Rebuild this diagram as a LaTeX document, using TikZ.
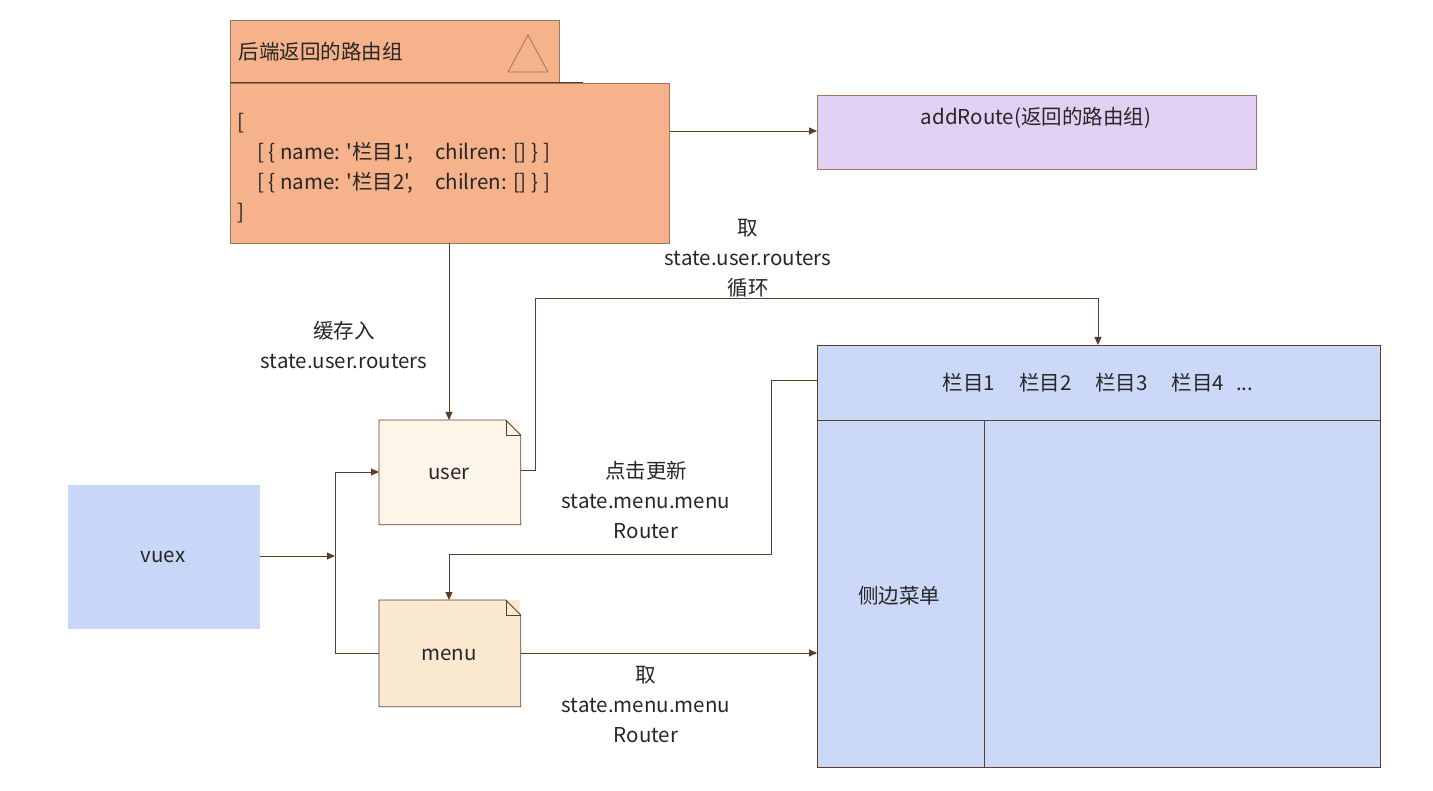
\documentclass[tikz,border=0pt]{standalone}
\usepackage{fontspec}
\setmainfont{Noto Sans CJK SC}
\newfontfamily\cjkf{Noto Sans CJK SC}
\usetikzlibrary{arrows.meta,positioning,calc}
\definecolor{salmon}{HTML}{F5B28B}
\definecolor{salmonline}{HTML}{9B7659}
\definecolor{lav}{HTML}{E1D0F3}
\definecolor{blu}{HTML}{CCD8F7}
\definecolor{vuexc}{HTML}{C8D6F8}
\definecolor{noteA}{HTML}{FDF5E8}
\definecolor{noteB}{HTML}{FAE9CF}
\definecolor{lin}{HTML}{5A3E28}
\tikzset{
  base/.style={font=\cjkf\fontsize{20.5}{30}\selectfont, text=black!85},
  box/.style={base, draw=#1, line width=0.8pt, inner sep=0pt, anchor=north west},
  conn/.style={draw=lin, line width=0.9pt},
  arr/.style={conn, -{Triangle[width=7pt,length=8pt]}},
  lbl/.style={base, align=center, inner sep=0pt},
}
\begin{document}
\begin{tikzpicture}[x=1pt,y=-1pt]
\useasboundingbox (0,0) rectangle (1433,791);
% title box
\node[box=salmonline, fill=salmon, minimum width=329pt, minimum height=63pt] (title) at (230,20) {};
\node[base, anchor=west] (titletxt) at (235,52) {后端返回的路由组};
\draw[salmonline, line width=0.8pt] (528,35) -- (548,72) -- (508,72) -- cycle;
% body box
\node[box=salmonline, fill=salmon, minimum width=439pt, minimum height=160pt] (body) at (230,83) {};
\draw[lin, line width=1pt] (230,83) -- (583,83);
\node[base, anchor=north west, align=left, inner sep=0pt] (bodytxt) at (237,113)
  {[\\\hspace*{20pt}[ \{ name: '栏目1',\hspace{22pt}chilren: [] \} ]\\\hspace*{20pt}[ \{ name: '栏目2',\hspace{22pt}chilren: [] \} ]\\]};
% addRoute
\node[box=salmonline, fill=lav, minimum width=439pt, minimum height=74pt] (add) at (817,95) {};
\node[base] (addtxt) at (1036,118) {addRoute(返回的路由组)};
% vuex
\node[box=vuexc, fill=vuexc, minimum width=191pt, minimum height=143pt] (vuex) at (68,485) {};
\node[base] (vuextxt) at (163,557) {vuex};
% notes
\node[box=none, fill=noteA, minimum width=141pt, minimum height=104pt] (user) at (379,420) {};
\draw[lin, line width=0.8pt] (user.north west) -- ($(user.north east)+(-15,0)$) -- ($(user.north east)+(0,15)$) -- (user.south east) -- (user.south west) -- cycle;
\draw[lin, line width=0.6pt] ($(user.north east)+(-15,0)$) -- ($(user.north east)+(-15,15)$) -- ($(user.north east)+(0,15)$);
\node[base] (usertxt) at (449,474) {user};
\node[box=none, fill=noteB, minimum width=141pt, minimum height=106pt] (menu) at (379,600) {};
\draw[lin, line width=0.8pt] (menu.north west) -- ($(menu.north east)+(-15,0)$) -- ($(menu.north east)+(0,15)$) -- (menu.south east) -- (menu.south west) -- cycle;
\draw[lin, line width=0.6pt] ($(menu.north east)+(-15,0)$) -- ($(menu.north east)+(-15,15)$) -- ($(menu.north east)+(0,15)$);
\node[base] (menutxt) at (449,655) {menu};
% big box
\node[box=lin, fill=blu, minimum width=563pt, minimum height=422pt] (big) at (817,345) {};
\node[box=lin, fill=blu, minimum width=563pt, minimum height=75pt] (bar) at (817,345) {};
\node[box=lin, fill=blu, minimum width=167pt, minimum height=347pt] (side) at (817,420) {};
\node[box=lin, fill=blu, minimum width=396pt, minimum height=347pt] (main) at (984,420) {};
\node[base] (bartxt) at (1098,383) {栏目1\hspace{24pt}栏目2\hspace{24pt}栏目3\hspace{24pt}栏目4\hspace{12pt}...};
\node[base] (sidetxt) at (899,596) {侧边菜单};
% connectors
\draw[arr] (body.east |- 0,131) -- (add.west |- 0,131);
\draw[arr] (449,243) -- (user.north -| 449,0);
\node[lbl] (l1) at (344,345) {缓存入\\state.user.routers};
\draw[arr] (vuex.east |- 0,556) -- (335,556);
\coordinate (j1) at (335,472);
\coordinate (j2) at (335,653);
\draw[conn] (j1) -- (j2);
\draw[arr] (j1) -- (user.west |- j1);
\draw[conn] (j2) -- (menu.west |- j2);
\draw[arr] (user.east |- 0,470) -- (535,470) -- (535,298) -- (1098,298) -- (bar.north -| 1098,0);
\node[lbl] (l2) at (748,258) {取\\state.user.routers\\循环};
\draw[arr] (bar.west |- 0,380) -- (771,380) -- (771,554) -- (449,554) -- (menu.north -| 449,0);
\node[lbl] (l3) at (646,500) {点击更新\\state.menu.menu\\Router};
\draw[arr] (menu.east |- 0,653) -- (side.west |- 0,653);
\node[lbl] (l4) at (646,705) {取\\state.menu.menu\\Router};
\end{tikzpicture}
\end{document}
